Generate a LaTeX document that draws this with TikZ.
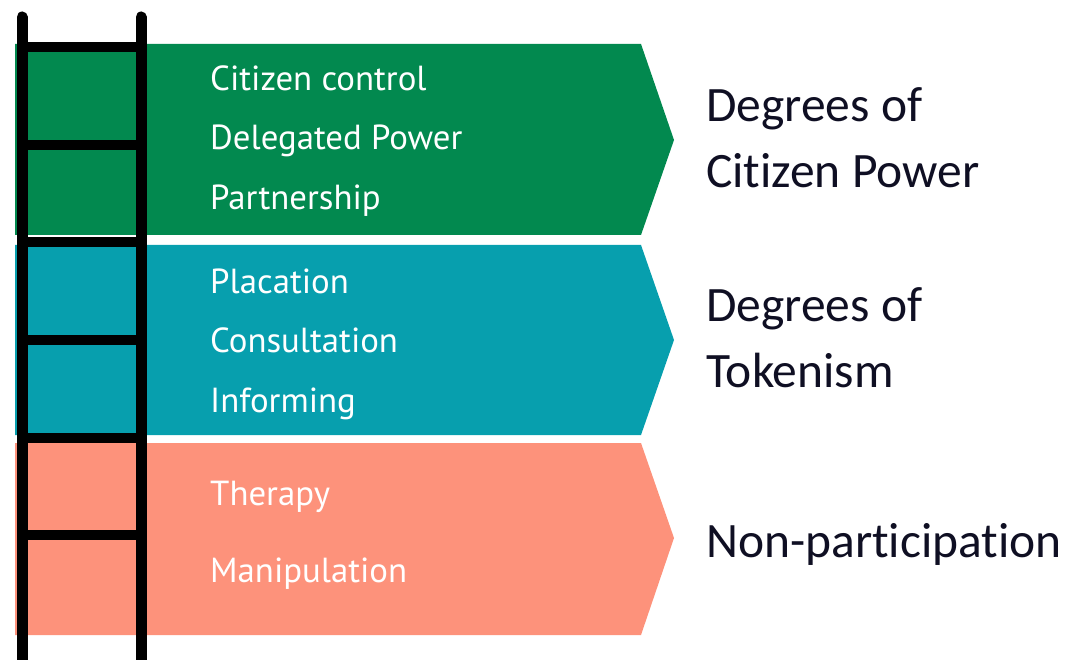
\documentclass[tikz,border=0pt]{standalone}
\usepackage{fontspec}
\setmainfont{Carlito}
\newfontfamily\itemfont{PT Sans}
\newfontfamily\groupfont[Ligatures=NoCommon]{Carlito}
\definecolor{bgreen}{RGB}{2,137,79}
\definecolor{bteal}{RGB}{7,159,174}
\definecolor{bsalmon}{RGB}{253,146,123}
\definecolor{dtext}{RGB}{15,15,35}
\begin{document}
\begin{tikzpicture}[x=1pt,y=-1pt,
  item/.style={anchor=base west,inner sep=0pt,text=white,font=\itemfont\fontsize{34.8}{40}\selectfont},
  group/.style={anchor=base west,inner sep=0pt,text=dtext,font=\groupfont\fontsize{49.5}{56}\selectfont},
  rail/.style={line width=11pt,line cap=round,black},
  rung/.style={line width=10pt,black}]
\useasboundingbox (0,0) rectangle (1074,660);
\clip (0,0) rectangle (1074,660);
% bands
\fill[bgreen]   (15,44)  -- (641,44)  -- (674,140) -- (641,235) -- (15,235) -- cycle;
\fill[bteal]    (15,245) -- (641,245) -- (674,340) -- (641,435) -- (15,435) -- cycle;
\fill[bsalmon]  (15,443) -- (641,443) -- (674,538) -- (641,635) -- (15,635) -- cycle;
% ladder
\coordinate (lt) at (22,17);
\coordinate (lb) at (22,680);
\coordinate (rt) at (141,17);
\coordinate (rb) at (141,680);
\draw[rail] (lt) -- (lb);
\draw[rail] (rt) -- (rb);
\foreach \y in {47,145,242,340,438,535}{
  \draw[rung] (22,\y) -- (141,\y);
}
% items
\node[item] (c1) at (210,91)  {Citizen control};
\node[item] (c2) at (210,150) {Delegated Power};
\node[item] (c3) at (210,210) {Partnership};
\node[item] (t1) at (210,294) {Placation};
\node[item] (t2) at (210,353) {Consultation};
\node[item] (t3) at (210,412) {Informing};
\node[item] (n1) at (210,505) {Therapy};
\node[item] (n2) at (210,582) {Manipulation};
% groups
\node[group] (g1a) at (706,122) {Degrees of};
\node[group] (g1b) at (706,188) {Citizen Power};
\node[group] (g2a) at (706,322) {Degrees of};
\node[group] (g2b) at (706,388) {Tokenism};
\node[group] (g3)  at (706,557) {Non-participation};
\end{tikzpicture}
\end{document}
